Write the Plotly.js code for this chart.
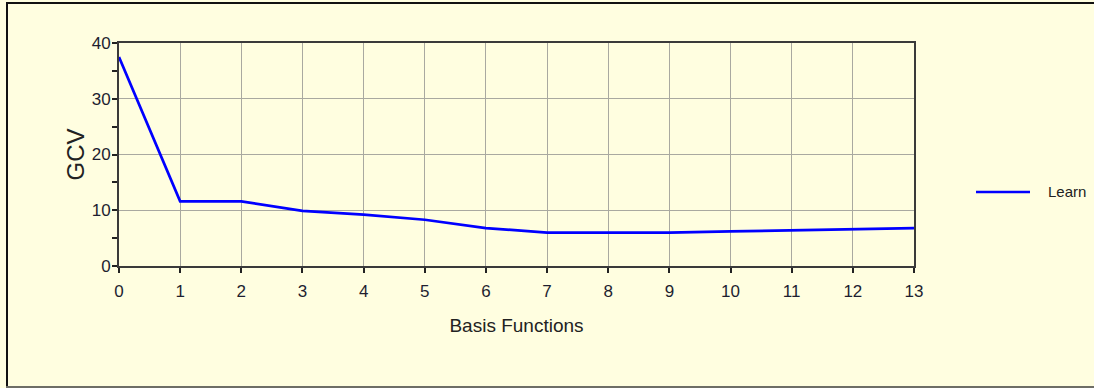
<!DOCTYPE html>
<html>
<head>
<meta charset="utf-8">
<script src="https://cdn.plot.ly/plotly-3.0.1.min.js"></script>
<style>
  html, body { margin: 0; padding: 0; background: #FFFEE0; }
  #wrap { position: relative; width: 1094px; height: 388px; }
  #chart { width: 1094px; height: 388px; }
  .b { position: absolute; }
</style>
</head>
<body>
<div id="wrap">
  <div id="chart"></div>
  <div class="b" style="left:6px;top:2px;width:1088px;height:2px;background:#111;"></div>
  <div class="b" style="left:6px;top:2px;width:2px;height:385px;background:#111;"></div>
  <div class="b" style="left:6px;top:386px;width:1088px;height:2px;background:#6e6e66;"></div>
</div>
<script>
// Data
const basisFunctions = [0, 1, 2, 3, 4, 5, 6, 7, 8, 9, 10, 11, 12, 13];
const gcvLearn = [37.5, 11.6, 11.6, 9.9, 9.2, 8.3, 6.8, 6.0, 6.0, 6.0, 6.2, 6.4, 6.6, 6.8];
const xTickVals = [0, 1, 2, 3, 4, 5, 6, 7, 8, 9, 10, 11, 12, 13];
const yTickVals = [0, 10, 20, 30, 40];
const seriesName = 'Learn';
const xTitle = 'Basis Functions';
const yTitle = 'GCV';

const font = '"Liberation Sans", Arial, sans-serif';
const bg = '#FFFEE0';
const lineColor = '#0000FF';

// plot-area geometry (pixels)
const W = 1094, H = 388, ML = 119, MR = 180, MT = 43, MB = 122;
const PW = W - ML - MR, PH = H - MT - MB;
const px = v => (v - ML) / PW;          // pixel x -> paper x
const py = v => (H - MB - v) / PH;      // pixel y -> paper y

const trace = {
  x: basisFunctions,
  y: gcvLearn,
  type: 'scatter',
  mode: 'lines',
  name: seriesName,
  line: { color: lineColor, width: 2.7 },
  hoverinfo: 'x+y',
  showlegend: false
};

const layout = {
  width: W,
  height: H,
  paper_bgcolor: bg,
  plot_bgcolor: bg,
  margin: { l: ML, r: MR, t: MT, b: MB, pad: 0 },
  showlegend: false,
  // legend key drawn as a shape + label
  shapes: [{
    type: 'line', xref: 'paper', yref: 'paper',
    x0: px(976), x1: px(1030), y0: py(192), y1: py(192),
    line: { color: lineColor, width: 2.7 }
  }],
  annotations: [{
    xref: 'paper', yref: 'paper', x: px(1046), y: py(192),
    xanchor: 'left', yanchor: 'middle', showarrow: false,
    text: seriesName,
    font: { family: font, size: 15, color: '#222' }
  }],
  xaxis: {
    range: [0, 13],
    tickvals: xTickVals,
    ticktext: xTickVals.map(String),
    showgrid: true,
    gridcolor: '#a9a9a0',
    gridwidth: 1,
    showline: true,
    linecolor: '#3a3a3a',
    linewidth: 2,
    mirror: true,
    ticks: 'outside',
    ticklen: 5,
    tickwidth: 1.5,
    tickcolor: '#222',
    ticklabelstandoff: 4,
    zeroline: false,
    tickfont: { family: font, size: 17, color: '#1e1e30' },
    title: { text: xTitle, font: { family: font, size: 19, color: '#222' }, standoff: 18 }
  },
  yaxis: {
    range: [0, 40],
    tickvals: yTickVals,
    ticktext: yTickVals.map(String),
    showgrid: true,
    gridcolor: '#a9a9a0',
    gridwidth: 1,
    showline: true,
    linecolor: '#3a3a3a',
    linewidth: 2,
    mirror: true,
    ticks: 'outside',
    ticklen: 5,
    tickwidth: 1.5,
    tickcolor: '#222',
    ticklabelstandoff: -2,
    zeroline: false,
    minor: { dtick: 5, tick0: 0, ticks: 'outside', ticklen: 5, tickwidth: 1.5, tickcolor: '#222', showgrid: false },
    tickfont: { family: font, size: 17, color: '#1e1e30' },
    title: { text: yTitle, font: { family: font, size: 24, color: '#222' }, standoff: 0 }
  }
};

Plotly.newPlot('chart', [trace], layout, { displayModeBar: false });
</script>
</body>
</html>
